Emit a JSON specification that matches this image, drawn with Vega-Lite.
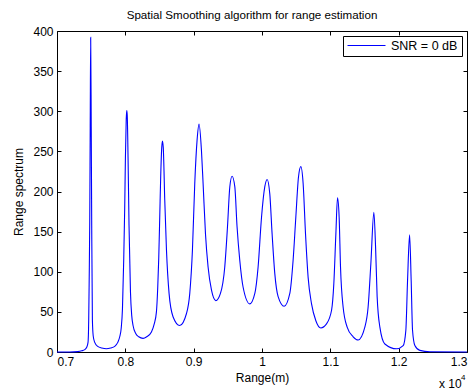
{
  "$schema": "https://vega.github.io/schema/vega-lite/v6.json",
  "width": 410,
  "height": 321,
  "autosize": "none",
  "padding": {"left": 57, "top": 31, "right": 8, "bottom": 38},
  "background": "white",
  "config": {
    "font": "Liberation Sans",
    "view": {"stroke": null},
    "axis": {
      "grid": false,
      "domainColor": "black",
      "domainWidth": 1,
      "tickColor": "black",
      "tickSize": -4,
      "labelColor": "black",
      "labelFontSize": 12,
      "titleColor": "black",
      "titleFontSize": 12,
      "titleFontWeight": "normal"
    }
  },
  "title": {
    "text": "Spatial Smoothing algorithm for range estimation",
    "fontSize": 11.6,
    "fontWeight": "normal",
    "color": "black",
    "anchor": "middle",
    "frame": "group",
    "dx": -10,
    "offset": -6,
    "baseline": "alphabetic"
  },
  "data": {
    "values": [
      {"r": 7000, "s": 0}, {"r": 7186, "s": 0}, {"r": 7303, "s": 0.5}, {"r": 7362, "s": 1.5},
      {"r": 7406, "s": 3}, {"r": 7435, "s": 6}, {"r": 7454, "s": 12}, {"r": 7464, "s": 40},
      {"r": 7471, "s": 90}, {"r": 7479, "s": 160}, {"r": 7486, "s": 280}, {"r": 7493, "s": 392},
      {"r": 7501, "s": 280}, {"r": 7508, "s": 158}, {"r": 7518, "s": 40}, {"r": 7530, "s": 20},
      {"r": 7552, "s": 12}, {"r": 7596, "s": 7}, {"r": 7654, "s": 5}, {"r": 7723, "s": 4},
      {"r": 7786, "s": 5}, {"r": 7845, "s": 7}, {"r": 7889, "s": 12}, {"r": 7918, "s": 19},
      {"r": 7940, "s": 30}, {"r": 7958, "s": 54}, {"r": 7977, "s": 117}, {"r": 7991, "s": 180},
      {"r": 8001, "s": 241}, {"r": 8013, "s": 290}, {"r": 8021, "s": 301}, {"r": 8028, "s": 295},
      {"r": 8040, "s": 241}, {"r": 8054, "s": 158}, {"r": 8075, "s": 75}, {"r": 8094, "s": 45},
      {"r": 8113, "s": 33}, {"r": 8152, "s": 23}, {"r": 8196, "s": 19}, {"r": 8259, "s": 17},
      {"r": 8313, "s": 19}, {"r": 8382, "s": 25}, {"r": 8423, "s": 35}, {"r": 8455, "s": 50},
      {"r": 8474, "s": 80}, {"r": 8489, "s": 117}, {"r": 8504, "s": 170}, {"r": 8518, "s": 220},
      {"r": 8533, "s": 255}, {"r": 8543, "s": 263}, {"r": 8555, "s": 255}, {"r": 8577, "s": 189},
      {"r": 8602, "s": 127}, {"r": 8640, "s": 73}, {"r": 8698, "s": 44}, {"r": 8796, "s": 33},
      {"r": 8895, "s": 48}, {"r": 8943, "s": 73}, {"r": 8982, "s": 127}, {"r": 9016, "s": 210},
      {"r": 9050, "s": 264}, {"r": 9079, "s": 284}, {"r": 9114, "s": 251}, {"r": 9138, "s": 210},
      {"r": 9173, "s": 147}, {"r": 9211, "s": 106}, {"r": 9261, "s": 77}, {"r": 9324, "s": 64},
      {"r": 9392, "s": 73}, {"r": 9455, "s": 106}, {"r": 9495, "s": 156}, {"r": 9529, "s": 206},
      {"r": 9562, "s": 219}, {"r": 9602, "s": 206}, {"r": 9635, "s": 156}, {"r": 9675, "s": 114},
      {"r": 9723, "s": 81}, {"r": 9821, "s": 60}, {"r": 9895, "s": 73}, {"r": 9943, "s": 106},
      {"r": 9993, "s": 168}, {"r": 10041, "s": 206}, {"r": 10075, "s": 215}, {"r": 10114, "s": 197},
      {"r": 10148, "s": 147}, {"r": 10187, "s": 98}, {"r": 10236, "s": 69}, {"r": 10324, "s": 57},
      {"r": 10407, "s": 73}, {"r": 10455, "s": 114}, {"r": 10495, "s": 168}, {"r": 10534, "s": 218},
      {"r": 10568, "s": 231}, {"r": 10602, "s": 210}, {"r": 10637, "s": 147}, {"r": 10675, "s": 93},
      {"r": 10725, "s": 60}, {"r": 10788, "s": 39}, {"r": 10861, "s": 30}, {"r": 10944, "s": 35},
      {"r": 11018, "s": 52}, {"r": 11051, "s": 85}, {"r": 11081, "s": 147}, {"r": 11105, "s": 192},
      {"r": 11129, "s": 168}, {"r": 11149, "s": 106}, {"r": 11187, "s": 56}, {"r": 11246, "s": 31},
      {"r": 11334, "s": 19}, {"r": 11407, "s": 15}, {"r": 11505, "s": 31}, {"r": 11553, "s": 56},
      {"r": 11593, "s": 110}, {"r": 11637, "s": 174}, {"r": 11662, "s": 131}, {"r": 11685, "s": 69},
      {"r": 11725, "s": 31}, {"r": 11798, "s": 10}, {"r": 11969, "s": 4}, {"r": 12066, "s": 8},
      {"r": 12105, "s": 27}, {"r": 12130, "s": 89}, {"r": 12160, "s": 146}, {"r": 12183, "s": 89},
      {"r": 12203, "s": 27}, {"r": 12237, "s": 8}, {"r": 12310, "s": 2}, {"r": 12457, "s": 0.3},
      {"r": 13000, "s": 0}
    ]
  },
  "layer": [
    {
      "mark": {"type": "line", "strokeWidth": 1.1, "interpolate": "monotone"},
      "encoding": {
        "x": {
          "field": "r",
          "type": "quantitative",
          "scale": {"domain": [7000, 13000], "nice": false, "zero": false},
          "axis": {
            "orient": "bottom",
            "values": [7000, 8000, 9000, 10000, 11000, 12000, 13000],
            "labelExpr": "format(datum.value / 10000, '~g')",
            "labelPadding": 8,
            "title": "Range(m)",
            "titlePadding": 5
          }
        },
        "y": {
          "field": "s",
          "type": "quantitative",
          "scale": {"domain": [0, 400], "nice": false},
          "axis": {
            "orient": "left",
            "values": [0, 50, 100, 150, 200, 250, 300, 350, 400],
            "labelPadding": 8,
            "title": "Range spectrum",
            "titlePadding": 7
          }
        },
        "color": {
          "datum": "SNR = 0 dB",
          "type": "nominal",
          "scale": {"range": ["#0000ff"]},
          "legend": {
            "orient": "top-right",
            "offset": 5,
            "title": null,
            "symbolType": "stroke",
            "symbolSize": 1444,
            "symbolStrokeWidth": 1,
            "clipHeight": 11,
            "labelFontSize": 12.5,
            "labelColor": "black",
            "labelOffset": 5,
            "strokeColor": "black",
            "fillColor": "white",
            "padding": 4
          }
        }
      }
    },
    {
      "data": {"values": [{}]},
      "mark": {"type": "text", "align": "left", "baseline": "alphabetic", "fontSize": 12, "color": "black"},
      "encoding": {
        "x": {
          "datum": 12589,
          "type": "quantitative",
          "axis": {
            "orient": "top",
            "values": [7000, 8000, 9000, 10000, 11000, 12000, 13000],
            "labels": false,
            "title": null
          }
        },
        "y": {
          "datum": -45,
          "type": "quantitative",
          "axis": {
            "orient": "right",
            "values": [0, 50, 100, 150, 200, 250, 300, 350, 400],
            "labels": false,
            "title": null
          }
        },
        "text": {"value": "x 10"}
      }
    },
    {
      "data": {"values": [{}]},
      "mark": {"type": "text", "align": "left", "baseline": "alphabetic", "fontSize": 8, "color": "black"},
      "encoding": {
        "x": {"datum": 12911, "type": "quantitative", "axis": null},
        "y": {"datum": -35.5, "type": "quantitative", "axis": null},
        "text": {"value": "4"}
      }
    }
  ]
}
